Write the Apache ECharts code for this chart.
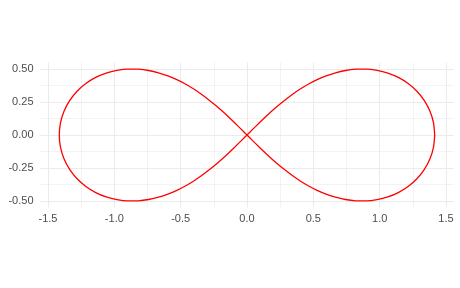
<!DOCTYPE html>
<html><head><meta charset="utf-8">
<script src="https://cdn.jsdelivr.net/npm/echarts@6/dist/echarts.min.js"></script>
<style>html,body{margin:0;padding:0;background:#fff}#c{width:460px;height:288px}</style>
</head><body><div id="c"></div>
<script>
// Curve points (figure-eight curve), traced in drawing order
var xs = [1.4142,1.4052,1.3786,1.3362,1.2802,1.2137,1.1397,1.0609,0.9798,0.8985,0.8186,0.7411,0.6667,0.5957,0.5284,0.4645,0.4041,0.3466,0.2920,0.2396,0.1894,0.1406,0.0931,0.0463,0,
  -0.0463,-0.0931,-0.1406,-0.1894,-0.2396,-0.2920,-0.3466,-0.4041,-0.4645,-0.5284,-0.5957,-0.6667,-0.7411,-0.8186,-0.8985,-0.9798,-1.0609,-1.1397,-1.2137,-1.2802,-1.3362,-1.3786,-1.4052,-1.4142,
  -1.4052,-1.3786,-1.3362,-1.2802,-1.2137,-1.1397,-1.0609,-0.9798,-0.8985,-0.8186,-0.7411,-0.6667,-0.5957,-0.5284,-0.4645,-0.4041,-0.3466,-0.2920,-0.2396,-0.1894,-0.1406,-0.0931,-0.0463,0,
  0.0463,0.0931,0.1406,0.1894,0.2396,0.2920,0.3466,0.4041,0.4645,0.5284,0.5957,0.6667,0.7411,0.8186,0.8985,0.9798,1.0609,1.1397,1.2137,1.2802,1.3362,1.3786,1.4052,1.4142];
var ys = [0,0.0919,0.1799,0.2607,0.3314,0.3901,0.4361,0.4692,0.4899,0.4992,0.4983,0.4886,0.4714,0.4478,0.4192,0.3863,0.3499,0.3109,0.2697,0.2269,0.1829,0.1379,0.0923,0.0462,0,
  -0.0462,-0.0923,-0.1379,-0.1829,-0.2269,-0.2697,-0.3109,-0.3499,-0.3863,-0.4192,-0.4478,-0.4714,-0.4886,-0.4983,-0.4992,-0.4899,-0.4692,-0.4361,-0.3901,-0.3314,-0.2607,-0.1799,-0.0919,0,
  0.0919,0.1799,0.2607,0.3314,0.3901,0.4361,0.4692,0.4899,0.4992,0.4983,0.4886,0.4714,0.4478,0.4192,0.3863,0.3499,0.3109,0.2697,0.2269,0.1829,0.1379,0.0923,0.0462,0,
  -0.0462,-0.0923,-0.1379,-0.1829,-0.2269,-0.2697,-0.3109,-0.3499,-0.3863,-0.4192,-0.4478,-0.4714,-0.4886,-0.4983,-0.4992,-0.4899,-0.4692,-0.4361,-0.3901,-0.3314,-0.2607,-0.1799,-0.0919,0];
var xTicks = [-1.5,-1.0,-0.5,0.0,0.5,1.0,1.5];
var yTicks = [-0.5,-0.25,0,0.25,0.5];

var pts = xs.map(function(x,i){return [x, ys[i]];});
var xr = [-1.5557, 1.5557], yr = [-0.55, 0.55];
var grid = '#ebebeb', txt = '#4d4d4d';
var font = 'Liberation Sans, Arial, sans-serif';
var chart = echarts.init(document.getElementById('c'), null, {renderer:'canvas'});
chart.setOption({
  animation:false,
  grid:[
    {left:48, right:14, top:62.4, bottom:80.4, containLabel:false},
    {left:40.5, right:6.5, top:69, bottom:87, containLabel:false},
    {left:40.5, right:6.5, top:62.4, bottom:80.4, containLabel:false}
  ],
  xAxis:[
    {gridIndex:0, type:'value', min:xTicks[0], max:xTicks[xTicks.length-1], interval:0.5,
     axisLine:{show:false}, axisTick:{show:false},
     axisLabel:{color:txt, fontSize:11, fontFamily:font, margin:6, formatter:function(v){return v.toFixed(1);}},
     splitLine:{lineStyle:{color:grid, width:1}},
     minorTick:{show:false, splitNumber:2}, minorSplitLine:{show:true, lineStyle:{color:grid, width:0.6}}},
    {gridIndex:1, type:'value', min:-1, max:1, show:false, splitLine:{show:false}},
    {gridIndex:2, type:'value', min:xr[0], max:xr[1], show:false, splitLine:{show:false}}
  ],
  yAxis:[
    {gridIndex:0, type:'value', min:-1, max:1, show:false, splitLine:{show:false}},
    {gridIndex:1, type:'value', min:yTicks[0], max:yTicks[yTicks.length-1], interval:0.25,
     axisLine:{show:false}, axisTick:{show:false},
     axisLabel:{color:txt, fontSize:11, fontFamily:font, margin:7, formatter:function(v){return v.toFixed(2);}},
     splitLine:{lineStyle:{color:grid, width:1}},
     minorTick:{show:false, splitNumber:2}, minorSplitLine:{show:true, lineStyle:{color:grid, width:0.6}}},
    {gridIndex:2, type:'value', min:yr[0], max:yr[1], show:false, splitLine:{show:false}}
  ],
  series:[{
    type:'line', xAxisIndex:2, yAxisIndex:2, data:pts, showSymbol:false, smooth:0.2,
    lineStyle:{color:'#ff0000', width:1.3}, clip:false
  }]
});
</script></body></html>
